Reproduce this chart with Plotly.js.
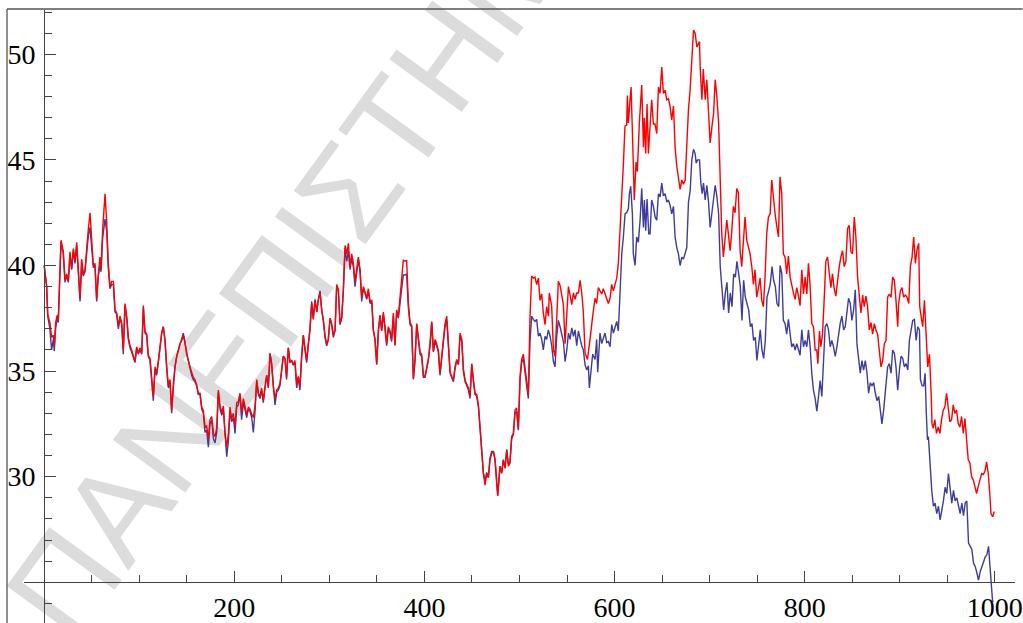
<!DOCTYPE html>
<html>
<head>
<meta charset="utf-8">
<script src="https://cdn.plot.ly/plotly-3.0.1.min.js"></script>
<style>html,body{margin:0;padding:0;background:#fff;}#chart{width:1023px;height:623px;}</style>
</head>
<body>
<div id="chart"></div>
<script>
// Shared x positions for the first part, where both series nearly coincide
const xA = [0,2.6,3.7,6,7.8,9.6,10.6,12,13.8,14.8,17.7,20,21.9,23.6,25.4,27.1,28.9,30.6,32.4,34.2,35.9,37.7,39.4,41.1,42.9,44.7,46.4,48.2,50,51.7,53.4,55.2,56.9,58.7,59.8,61.5,64,65.8,67.4,69.2,71,72.8,74.5,76.3,78,79.7,81.5,83.2,85,86.8,88.5,90.3,92,95.5,97.3,99,100.8,102.6,104.3,106,107.8,109.5,111.3,113.1,114.8,116.6,118.3,120,121.8,123.6,125.3,127.1,128.9,130.6,132.3,134.1,135.8,137.6,139.4,141.1,142.9,144.7,146.3,148.1,149.8,151.6,153.4,155.1,156.9,158.6,160.4,162.1,163.9,165.7,167.4,169.2,170.9,172.7,174.4,176.2,178,179.7,181.5,183.2,185,186.8,188.5,190.2,192,193.8,195.5,197.2,199,200.8,202.5,204.2,206,207.7,209.5,211.2,213,214.8,216.5,218.3,220,221.8,223.6,225.3,227,228.8,230.5,232.3,234.1,235.8,237.6,239.3,241,242.8,244.6,246.3,248,249.9,251.5,253.3,255,256.8,258.6,260.3,262,263.8,265.6,267.3,269,270.9,272.6,274.3,276.1,277.8,279.6,281.4,283.1,284.9,286.7,288.4,290.2,291.9,293.6,295.4,297.2,298.9,300.7,302.4,304.2,306,307.7,309.5,311.2,313,314.7,316.5,318.3,320,321.8,323.5,325.3,327,328.8,330.5,332.3,334,335.8,337.6,339.3,341,342.8,344.6,346.3,348,349.8,351.6,353.3,355,356.8,358.6,360.3,362,363.8,365.5,367.3,369,370.8,372.6,374.3,376.1,377.8,379.6,381.3,383.1,384.9,386.6,388.4,390.1,391.9,393.6,395.4,397.1,398.9,400.6,402.4,404.1,405.9,407.7,409.4,411.2,412.9,414.7,416.4,418.2,420,421.7,423.5,425.2,427,428.7,430.5,432.2,434,435.8,437.5,439.3,441,442.8,444.6,446.3,448,449.8,451.5,453.3,455,456.8,458.5,460.3,462,463.8,465.5,467.3,469,470.8,472.6,474.3,476.1,477.1,479.5,481.3,483,484.8,486.6,488.3,490,491.8,493.6,495.3,497,498.8,500.6,502.3,504,505.8,507.6,509.3];
const redA = [40,39,37.7,37.3,36.6,36.7,36.15,37.3,37.65,37.4,41.2,40.7,39.3,39.6,39.3,40.65,39.85,40.8,40.25,41.1,39.8,38.4,40.3,39.55,39.8,40.9,41.7,42.5,41.05,40,40.1,38.4,39.6,40.4,39.85,41.7,43.4,42,40.1,39,39.25,39.25,37.9,37.75,37.1,37.6,37.3,36,38.2,37.6,36.6,36.2,36,35.45,36.15,35.85,36.1,35.85,38.1,36.9,36.75,35.75,35.6,34.6,33.8,35.2,34.9,35.45,36.15,36.8,37.1,36.5,35.2,34.3,34.6,33.15,34.3,35.2,35.7,36,36.3,36.45,36.7,36.3,35.8,35.5,35.2,34.9,34.7,34.6,34.35,33.95,33.95,33.3,33.15,32.35,32.4,31.8,32.7,32.85,32.05,31.9,32.3,34.1,33.35,33.05,33.35,32.05,31.4,32.05,33.3,32.75,33,32.4,33.5,33.55,33.95,33.05,33.7,33.35,32.9,33.3,33.2,32.95,32.8,33.35,34.6,33.95,33.8,34.2,33.6,34.25,34.8,34.25,35.85,35.35,34.25,33.7,34.1,34.2,34.4,35.1,35.7,35.6,34.75,36.1,35.45,35.5,35.3,35.5,34.4,34.75,34.25,35.75,36.7,36.1,35.5,36.25,36.95,38.2,37.45,38.35,37.8,38.35,38.75,37.9,37.45,36.7,36.25,36.5,37.5,37.25,36.7,36.95,39.1,38.85,37.25,37.55,38.85,40.95,40.55,41.05,39.95,40.55,40.1,39.25,39.8,40.4,39.8,38.5,39,38.75,38.45,38.9,38.3,38.35,36.95,36.5,35.35,36.95,37.65,36.95,37.8,37.1,36.3,37.1,36.9,36.5,37.75,36.25,37.9,37.6,38.5,39.1,40.25,40.2,40.25,38.2,37.3,37.15,34.65,35.55,37.25,36.6,35.9,35.8,34.8,34.75,35.15,35.55,36.3,37.35,35.95,36.5,36.3,35.95,34.9,35.9,36.5,37.25,37.6,36.3,34.95,34.75,34.6,35.2,35.55,35.35,36.8,36.5,35.1,34.55,34.4,34.2,33.8,35.35,34.6,33.9,33.9,33.4,32.35,31.1,30.15,29.6,30.15,29.95,30.8,31.1,31.2,30.8,29.55,29.1,30.5,30.15,30.8,30.4,31.25,30.5,30.65,31.9,32.05,33.15,33.25,32.25,34.75,35.55,35.8,35.15,34.55,33.9];
const blueA = [40,39,37.6,37,36,36.5,35.95,37,37.6,37.3,41.1,40.6,39.2,39.5,39.2,40.5,39.8,40.7,40.1,40.9,39.7,38.3,40.2,39.5,39.7,40.6,41.4,41.8,40.8,39.9,40,38.3,39.5,40,39.7,41.3,42.2,41.6,39.9,38.9,39.1,39.1,37.8,37.7,37,37.5,37.2,35.8,38.1,37.5,36.5,36.1,35.9,35.4,36.1,35.8,36,35.8,38,36.8,36.7,35.7,35.5,34.4,33.6,35.1,34.8,35.4,36.1,36.8,37.1,36.4,35.1,34.2,34.5,33,34.2,35.2,35.7,36,36.3,36.5,36.8,36.4,35.8,35.5,35.1,34.8,34.6,34.5,34.3,33.9,33.9,33.2,33,32.1,32.2,31.4,32.5,32.7,31.8,31.6,32.1,34,33.2,32.9,33.2,31.8,30.95,31.7,33.1,32.6,32.8,32.05,33.3,33.4,33.9,32.7,33.5,33.2,32.8,33.2,33.1,32.8,32.1,33.1,34.5,33.9,33.7,34.1,33.5,34.2,34.8,34.2,35.8,35.3,34.2,33.4,34,34.1,34.3,35.1,35.7,35.6,34.6,36.1,35.4,35.5,35.3,35.4,34.2,34.7,34.1,35.7,36.7,36,35.4,36.2,37,38.3,37.5,38.4,37.8,38.4,38.8,37.9,37.4,36.6,36.2,36.5,37.5,37.2,36.6,36.9,39,38.8,37.2,37.5,38.8,40.8,40.2,40.7,39.8,40.4,39.9,39,39.6,40.3,39.7,38.3,38.9,38.7,38.4,38.8,38.2,38.3,36.9,36.5,35.3,36.9,37.6,36.9,37.7,37,36.2,37,36.8,36.4,37.6,36.2,37.8,37.5,38.3,38.9,39.55,39.55,39.6,38,37.2,37.1,34.6,35.5,37.2,36.5,35.8,35.7,34.7,34.7,35.1,35.5,36.2,37.3,35.9,36.4,36.2,35.9,34.8,35.8,36.4,37.1,37.4,36.2,34.9,34.7,34.5,35.1,35.5,35.3,36.7,36.4,35,34.5,34.3,34.1,33.7,35.3,34.5,33.9,33.8,33.3,32.3,31.1,30.2,29.8,30.2,30,30.9,31.2,31.2,30.8,29.6,29.1,30.5,30.2,30.8,30.4,31.3,30.6,30.7,31.8,32,33,33.1,32.2,34.6,35.4,35.6,34.9,34.25,33.7];

// Second part: red series
const xRedB = [511.1,512.8,514.6,516.3,518.1,519.9,521.6,523.4,525.1,526.9,528.6,530.4,531.4,533.9,535.7,537.4,539.2,540.9,542.7,544.5,546.2,548,549.8,551.5,553.2,555,556.8,558.5,560.2,562,563.8,565.5,567.2,569,571.5,573.5,575,577,579.5,581.2,583,584.7,586.5,588.2,590,591.8,593.5,595.3,597,598.8,600.5,602.3,604,605.8,607.6,609.2,611,612.8,613.5,614.5,616.3,617.4,619.1,620.8,622.6,624,626.1,628.6,630.4,631.4,632.8,634.2,635.6,637.4,639.1,640.9,642.6,644.4,646.2,647.9,649.7,651.4,653.2,654.9,656.7,658.4,660.2,662,663.7,665.5,667.2,669,670.8,672.5,674.3,676,677.8,679.5,681.3,683.1,684.8,686.6,688.3,689.4,690.1,691.9,693.4,695.4,697.1,698.9,700.6,702.4,704.2,705.9,707.7,709.5,711.2,712.8,714.5,716.3,718.1,719.8,721.6,723.4,725,726.8,728.6,730.3,732.1,733.8,735.6,737.3,739.1,740.9,742.6,744.4,746.1,747.8,749.6,751.4,753.1,754.9,756.6,758.4,760.1,761.9,763.7,765.4,767.2,768.9,770.7,772.5,774.1,775.9,777.6,779.4,781.1,782.9,784.7,786.4,788.2,790,791.7,793.5,795.2,797,798.8,800.5,802.3,804,805.8,807.5,809.3,811.1,812.8,813.9,815.6,817,818.8,820.5,822.3,824.1,825.8,827.6,829.3,831.1,832.8,834.6,836.4,838.1,839.9,841.6,843.4,845.2,846.9,848.7,850.4,852.2,853.9,855.7,857.5,859.2,861,862.7,864.5,866.2,868,869.8,871.5,873.3,875,876.8,878.5,880.3,882.1,883.8,885.6,887.3,889.1,890.9,892.6,894.4,896.1,897.9,898.9,900.7,902.4,904.2,905.9,907.7,909.5,911.2,913,914.7,916.5,918.2,920,921.1,922.5,924.2,926,927.7,929.5,931.3,932.3,933.2,934,935.2,937,938.7,940.5,942.3,944,945.8,947.5,949.3,951,952.8,954.6,956.3,958.1,959.8,961.6,963.3,965.1,966.9,968.6,970.4,972.1,973.9,975.6,977.4,979.2,980.9,982.7,984.4,986.2,987.9,989.7,991.4,993.2,995,996,997.8,999.5];
const redB = [37.6,39.5,39.4,39.45,39.1,39.4,38.35,38.65,37.75,37.2,38.05,37.6,38.7,38.05,36,35.7,37.5,39.25,39.05,38.6,38.15,36.3,37.7,39,38.6,38.15,38.7,38.4,38.7,38.7,39.3,38.7,37.8,35.85,35.55,36.2,36.8,37.6,38.45,38.2,38.95,38.8,38.65,38.9,38.65,38.35,38.2,38.45,39.1,38.8,39.1,39.4,40.1,41.5,43.1,44.7,46.6,46.65,48.05,46.75,47.85,48.45,45.85,43.1,44.9,44.45,46.75,48.55,45.6,47,45.3,47.65,45.3,46.55,47.85,46.7,46.7,46.25,48.45,48.15,49.4,48.15,48.3,47.85,47.9,47.55,46.9,47.55,45.6,44.7,44.05,43.6,44.05,43.85,44.05,45.95,47.4,48.3,50.05,51.15,51,50.35,50.5,50.6,49.4,47.85,49.3,47.85,48.8,47.4,45.8,46.55,47.2,48.8,48,46.75,43.75,41.5,40.4,41.5,42.15,41.5,40.7,41.65,42.8,42.5,43.65,43.45,40.7,39.95,41.2,42.3,41.2,40.8,40.55,39.95,39.1,39.8,38.5,38.95,39.4,38.35,38.05,39.5,41.5,42.3,42.45,44.05,43.1,42.45,41.85,41.35,44.2,43.4,40.55,40.4,39.6,40.45,39.45,39,38.7,38.4,38.95,38.55,38.1,39.8,38.65,39.45,38.65,40.1,39,37.25,37.1,36,36,35.35,36.9,36.15,36.75,38.35,40.2,40.4,39.8,38.95,39.6,38.9,38.55,39.35,39.95,40.4,40.7,39.95,40.2,41.75,41.9,40.65,40.55,42.3,41.35,39.45,38.55,37.75,38.6,38.05,38.55,38.05,36.95,37.3,36.75,37.25,36.95,36.75,36,35.2,35.5,36.3,36.45,38.5,38.65,38.5,39.45,39.3,38.35,37.1,38.2,38.8,38.95,38.5,38.6,38.5,38.2,39.95,40.4,41.35,40.1,40.75,41.05,38.05,37.6,37.1,38.35,36.8,35.2,35.8,34.9,33.8,32.5,32.3,32.7,32.05,32.35,32.05,32.7,33.15,33.3,33.95,33.3,32.6,32.7,33.4,33,33.15,32.5,32.35,32.85,32.05,32.75,31.75,30.8,30.65,30,29.85,29.55,29.2,29.55,29.85,30.15,30.1,30.25,30.7,30.15,29.05,28.25,28.1,28.35];

// Second part: blue series
const xBlueB = [511.1,512.8,514.6,516.3,518.1,519.9,521.6,523.4,525.1,526.9,528.6,530.4,532.2,533.9,535.7,537.4,539.2,540.9,542.7,544.5,546.2,548,549.8,551.5,553.2,555,556.8,558.5,560.2,562,563.8,565.5,567.2,569,570.8,572.5,573.5,574.9,577,579.5,581.2,582.3,584.7,586.5,588.2,590,591.8,593.5,595.3,597,598.8,600.5,602.3,604,605.8,607.6,609.3,611.1,612.8,614.6,615.6,617,618.8,619.8,621.6,623.3,625.1,626.9,628.6,630.4,631.4,632.8,634.2,636,637.4,639.1,640.9,642.7,644.4,646.2,647.9,649.7,651.4,653.2,655,656.7,658.5,660.2,662,663.7,665.5,667.2,669,670.8,672.5,674.3,676,677.8,679.6,681.3,683.1,684.8,685.9,687.3,689.4,690.8,692.2,693.6,695.4,697.1,698.9,700.6,702.4,704.2,705.9,707.7,709.5,711.2,713,714.8,716.5,718.3,720,721.8,723.6,725.3,727.1,728.8,730.6,732.3,734.1,735.8,737.6,739.3,741.1,742.9,744.6,746.3,748.1,749.8,751.6,753.3,755.1,756.9,758.6,760.4,762.2,763.9,765.7,767.4,769.2,770.9,772.7,774.2,776,777.6,779.4,781.1,782.9,784.7,786.4,788.2,790,791.7,793.5,795.2,797,798.8,800.5,802.3,804,805.8,807.5,809.3,811.1,812.8,814.6,816.3,818.1,819.9,821.6,823.4,825.1,826.9,828.6,830.4,832.2,833.9,835.7,837.4,839.2,841,842.7,844.5,846.2,848,849.7,851.5,853.3,855,856.8,858.5,860.3,862,863.8,865.6,867.3,869.1,870.8,872.6,874.4,876.1,877.9,879.6,881.3,883.1,884.9,887.3,889.1,890.9,892.6,894.4,896.1,897.9,899.7,901.4,903.2,904.9,906.7,908.5,910.2,912,913.7,915.5,917.3,919,920.8,921.8,923.6,925.3,926.7,928,929.2,930.2,932,933.7,935.5,937.2,939,940.8,942.5,944.3,946,947.8,949.5,951.3,953.1,954.8,956.6,958.3,960.1,961.8,963.6,965.4,967.1,968.9,970.6,972.4,974.2,975.9,977.7,979.4,981.2,982.9,984.7,986.5,988.2,990,991.7,993.5,994.5,996.3,997.7,998.7];
const blueB = [36.45,37.6,37.45,37.35,37.45,36.65,36.8,36.5,36,36.65,36.5,36.95,36.65,36.2,35.45,35.2,36.65,37.4,37.1,36.65,36.4,35.45,36,36.8,36.5,37.05,36.65,36.95,36.2,36.9,36.5,36.2,36,35.3,35.05,35.25,34.2,34.95,35.8,35.55,36.5,34.95,36.8,36.3,36.5,36.8,36.35,36.4,36.15,37.2,36.8,37.05,37.35,36.9,38.5,40.55,41.35,42.45,42.5,42.7,43.4,43.75,42.45,40.55,40,41.35,41.1,42.15,43.65,41.8,43.1,41.65,43.15,41.5,41.5,43.1,42.8,42.3,42.15,43.4,43.25,43.9,43.3,43.4,43,43.1,42.85,42.45,42.8,41.35,40.85,40.55,40,40.4,40.3,40.55,40.85,43,43.55,45,45.5,45.3,44.85,45,45,43.9,43.4,43.9,43.1,43.8,43,41.8,42.45,42.9,43.8,43.25,42.45,39.95,39,37.9,38.7,39.2,37.75,38.7,38.05,39.6,39.45,40.2,39.6,39,37.4,39.3,38.5,38.2,37.9,37.1,37.25,36.45,36.6,35.5,36.3,36.95,36,35.6,36.45,38.5,38.8,39.15,39.95,39.3,39,38.2,38.05,40,39.6,37.4,37.25,36.75,37.45,36.6,36.15,36.3,36,36.3,36,35.75,36.95,36.15,36.45,36.15,36.95,36.15,34.9,34.1,33.7,33.1,33.8,34.55,33.8,35.2,37.1,37.25,36.95,36.15,36.45,36.15,35.7,36.15,36.75,37.25,37.6,36.95,37.1,37.75,38.45,38.2,37.4,37.9,38.85,36.3,35.5,34.9,35.5,35.05,35.5,34.9,33.95,34.45,34.3,34.45,33.95,33.6,33.8,33,32.5,33.15,33.95,35.2,35.35,34.9,36,35.85,35.2,34.1,35.05,35.7,35.6,35.2,35.35,35.05,36.45,36.95,37.4,37.45,36.45,37.1,36.95,34.6,34.3,34.3,34.9,33,31.75,31.9,30.5,29.35,28.6,28.75,28.25,28.6,27.95,28.4,28.85,29.5,29.2,30.15,29.5,28.75,29.35,28.85,29,28.6,28.25,28.75,28.15,28.75,28.85,26.85,26.7,26.55,25.9,25.75,25.45,25.1,25.5,25.75,26.05,26.2,26.3,26.7,26.05,24.8,24.1,24.1];

// Axis ticks
const xTicks = [200, 400, 600, 800, 1000];
const xTickText = ['200', '400', '600', '800', '1000'];
const xMinor = [50, 100, 150, 250, 300, 350, 450, 500, 550, 650, 700, 750, 850, 900, 950];
const yTicks = [30, 35, 40, 45, 50];
const yTickText = ['30', '35', '40', '45', '50'];
const yMinor = [24, 25, 26, 27, 28, 29, 31, 32, 33, 34, 36, 37, 38, 39, 41, 42, 43, 44, 46, 47, 48, 49, 51, 52];
const watermarkText = 'ΠΑΝΕΠΙΣΤΗΜΙΟ';

const blueTrace = {
  x: xA.concat(xBlueB), y: blueA.concat(blueB),
  type: 'scatter', mode: 'lines',
  line: {color: 'rgb(61,61,158)', width: 1.4}, hoverinfo: 'skip'
};
const redTrace = {
  x: xA.concat(xRedB), y: redA.concat(redB),
  type: 'scatter', mode: 'lines',
  line: {color: 'rgb(255,0,0)', width: 1.4}, hoverinfo: 'skip'
};

const axisCol = '#444';
const layout = {
  width: 1023, height: 623,
  margin: {l: 24, r: 8, t: 10, b: 0, pad: 0},
  paper_bgcolor: '#ffffff', plot_bgcolor: 'rgba(0,0,0,0)',
  showlegend: false,
  font: {family: '"Liberation Serif", "Times New Roman", serif', size: 28, color: '#000'},
  xaxis: {
    range: [-21.25, 1021.3], anchor: 'free', position: 0.0665,
    showgrid: false, zeroline: false, showline: true, linecolor: axisCol, linewidth: 1,
    ticks: 'inside', ticklen: 11, tickwidth: 1, tickcolor: axisCol,
    tickmode: 'array', tickvals: xTicks, ticktext: xTickText,
    minor: {ticks: 'inside', ticklen: 7, tickwidth: 1, tickcolor: axisCol, tickmode: 'array', tickvals: xMinor, showgrid: false}
  },
  yaxis: {
    range: [23.07, 52.10], anchor: 'free', position: 0.02038,
    showgrid: false, zeroline: false, showline: true, linecolor: axisCol, linewidth: 1,
    ticks: 'inside', ticklen: 11, tickwidth: 1, tickcolor: axisCol,
    tickmode: 'array', tickvals: yTicks, ticktext: yTickText, ticklabelstandoff: 3,
    minor: {ticks: 'inside', ticklen: 7, tickwidth: 1, tickcolor: axisCol, tickmode: 'array', tickvals: yMinor, showgrid: false}
  },
  shapes: [
    {type: 'line', xref: 'paper', yref: 'paper', layer: 'below',
     x0: -0.002, y0: 0.0049, x1: 0.5949, y1: 1.3326,
     line: {color: 'rgba(0,0,0,0)', width: 0},
     label: {text: watermarkText, textposition: 'middle', yanchor: 'middle', textangle: 'auto',
             font: {family: '"Liberation Sans", Arial, sans-serif', size: 130, color: '#dcdcdc'}}},
    {type: 'line', xref: 'paper', yref: 'paper', layer: 'above',
     x0: -0.01715, y0: -0.02, x1: -0.01715, y1: 1.0016, line: {color: '#555', width: 1.3}},
    {type: 'line', xref: 'paper', yref: 'paper', layer: 'above',
     x0: -0.01715, y0: 1.0016, x1: 1.0076, y1: 1.0016, line: {color: '#555', width: 1.3}}
  ]
};

Plotly.newPlot('chart', [blueTrace, redTrace], layout, {staticPlot: true, displayModeBar: false});
</script>
</body>
</html>
